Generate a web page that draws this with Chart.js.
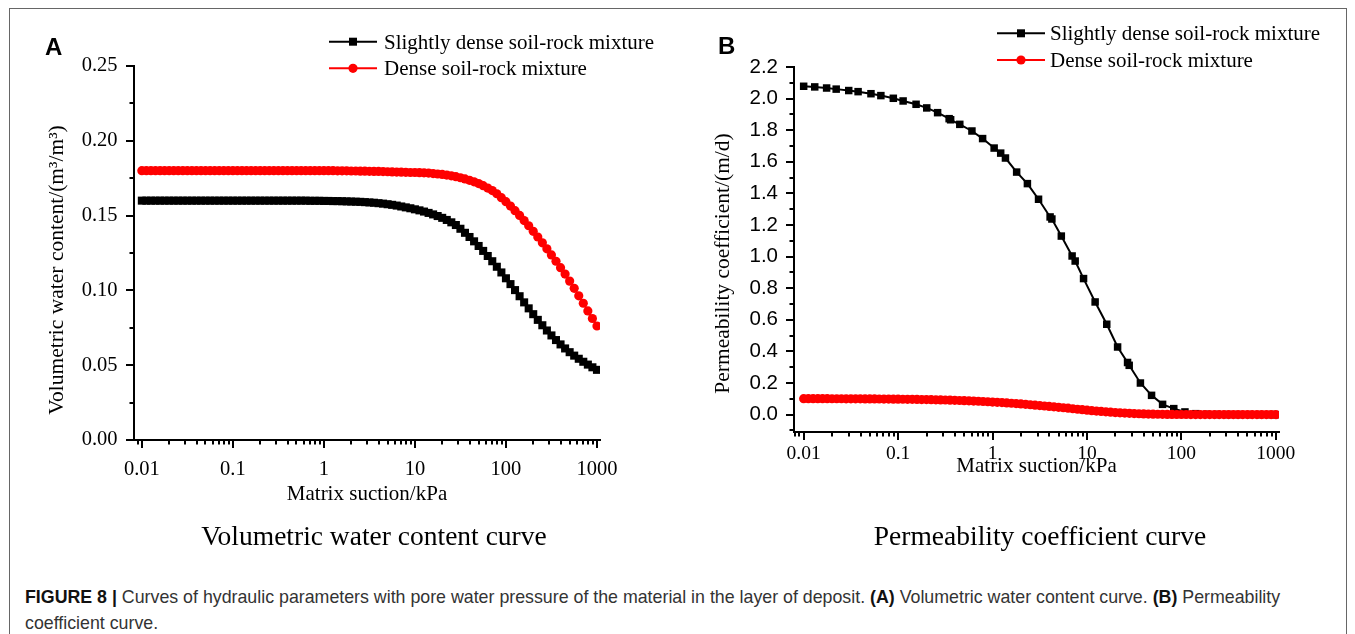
<!DOCTYPE html>
<html>
<head>
<meta charset="utf-8">
<script src="https://cdn.jsdelivr.net/npm/chart.js@4"></script>
<style>
  body { margin: 0; background: #fff; }
  #page { position: relative; width: 1355px; height: 634px; overflow: hidden; background: #fff; }
  #frame { position: absolute; left: 9px; top: 8px; width: 1336px; height: 700px; border: 1px solid #666; }
  canvas { position: absolute; top: 0; }
  #chartA { left: 0; }
  #chartB { left: 680px; }
  #caption {
    position: absolute; left: 25px; top: 584px;
    font: 17.8px "Liberation Sans", Arial, sans-serif; line-height: 26px;
    color: #333; white-space: nowrap;
  }
  #caption b { color: #111; }
</style>
</head>
<body>
<div id="page">
  <div id="frame"></div>
  <canvas id="chartA" width="680" height="560"></canvas>
  <canvas id="chartB" width="675" height="560"></canvas>
  <div id="caption"><b>FIGURE 8 |</b> Curves of hydraulic parameters with pore water pressure of the material in the layer of deposit. <b>(A)</b> Volumetric water content curve. <b>(B)</b> Permeability<br>coefficient curve.</div>
</div>
<script>
// matrix suction (kPa), shared by the dense curves
var suction = [
  0.01, 0.01122, 0.01259, 0.01413, 0.01585, 0.01778, 0.01995, 0.02239, 0.02512, 0.02818,
  0.03162, 0.03548, 0.03981, 0.04467, 0.05012, 0.05623, 0.0631, 0.07079, 0.07943, 0.08913,
  0.1, 0.1122, 0.1259, 0.1413, 0.1585, 0.1778, 0.1995, 0.2239, 0.2512, 0.2818,
  0.3162, 0.3548, 0.3981, 0.4467, 0.5012, 0.5623, 0.631, 0.7079, 0.7943, 0.8913,
  1, 1.122, 1.259, 1.413, 1.585, 1.778, 1.995, 2.239, 2.512, 2.818,
  3.162, 3.548, 3.981, 4.467, 5.012, 5.623, 6.31, 7.079, 7.943, 8.913,
  10, 11.22, 12.59, 14.13, 15.85, 17.78, 19.95, 22.39, 25.12, 28.18,
  31.62, 35.48, 39.81, 44.67, 50.12, 56.23, 63.1, 70.79, 79.43, 89.13,
  100, 112.2, 125.9, 141.3, 158.5, 177.8, 199.5, 223.9, 251.2, 281.8,
  316.2, 354.8, 398.1, 446.7, 501.2, 562.3, 631, 707.9, 794.3, 891.3,
  1000
];

// volumetric water content (m3/m3)
var wcSlightly = [
  0.1600, 0.1600, 0.1600, 0.1600, 0.1600, 0.1600, 0.1600, 0.1600, 0.1600, 0.1600,
  0.1600, 0.1600, 0.1600, 0.1600, 0.1600, 0.1600, 0.1600, 0.1600, 0.1600, 0.1600,
  0.1600, 0.1600, 0.1600, 0.1600, 0.1600, 0.1600, 0.1600, 0.1600, 0.1600, 0.1600,
  0.1600, 0.1600, 0.1600, 0.1600, 0.1600, 0.1600, 0.1600, 0.1599, 0.1599, 0.1599,
  0.1598, 0.1598, 0.1597, 0.1597, 0.1596, 0.1595, 0.1594, 0.1593, 0.1592, 0.1590,
  0.1588, 0.1586, 0.1583, 0.1580, 0.1576, 0.1572, 0.1567, 0.1561, 0.1555, 0.1549,
  0.1542, 0.1535, 0.1527, 0.1518, 0.1508, 0.1497, 0.1485, 0.1471, 0.1455, 0.1437,
  0.1412, 0.1385, 0.1357, 0.1328, 0.1297, 0.1264, 0.1230, 0.1195, 0.1158, 0.1120,
  0.1081, 0.1042, 0.1002, 0.0961, 0.0920, 0.0880, 0.0841, 0.0803, 0.0767, 0.0732,
  0.0699, 0.0668, 0.0639, 0.0612, 0.0587, 0.0564, 0.0543, 0.0523, 0.0504, 0.0486,
  0.0469
];
var wcDense = [
  0.1800, 0.1800, 0.1800, 0.1800, 0.1800, 0.1800, 0.1800, 0.1800, 0.1800, 0.1800,
  0.1800, 0.1800, 0.1800, 0.1800, 0.1800, 0.1800, 0.1800, 0.1800, 0.1800, 0.1800,
  0.1800, 0.1800, 0.1800, 0.1800, 0.1800, 0.1800, 0.1800, 0.1800, 0.1800, 0.1800,
  0.1800, 0.1800, 0.1800, 0.1800, 0.1800, 0.1800, 0.1800, 0.1800, 0.1800, 0.1800,
  0.1800, 0.1800, 0.1800, 0.1799, 0.1799, 0.1799, 0.1798, 0.1798, 0.1797, 0.1797,
  0.1796, 0.1795, 0.1795, 0.1794, 0.1793, 0.1792, 0.1791, 0.1790, 0.1789, 0.1788,
  0.1788, 0.1787, 0.1786, 0.1784, 0.1781, 0.1778, 0.1775, 0.1771, 0.1766, 0.1760,
  0.1753, 0.1745, 0.1736, 0.1726, 0.1714, 0.1700, 0.1684, 0.1667, 0.1646, 0.1620,
  0.1593, 0.1564, 0.1533, 0.1501, 0.1467, 0.1432, 0.1395, 0.1357, 0.1318, 0.1278,
  0.1237, 0.1195, 0.1152, 0.1109, 0.1062, 0.1014, 0.0964, 0.0914, 0.0863, 0.0812,
  0.0762
];

// permeability coefficient (m/d)
var suctionSparse = [
  0.01, 0.0131, 0.0175, 0.0221, 0.030, 0.0377, 0.0516, 0.0657, 0.089, 0.113,
  0.155, 0.201, 0.262, 0.347, 0.36, 0.45, 0.605, 0.785, 1.04, 1.22,
  1.37, 1.80, 2.34, 3.07, 4.07, 4.25, 5.35, 6.96, 7.5, 9.2,
  12.2, 16.2, 21.1, 26.9, 28, 36.8, 48.3, 63.2, 83, 109,
  142, 185, 240, 310, 405, 525, 680, 890, 1000
];
var permSlightly = [
  2.078, 2.074, 2.067, 2.060, 2.051, 2.044, 2.031, 2.019, 2.002, 1.985,
  1.964, 1.941, 1.911, 1.873, 1.866, 1.837, 1.795, 1.747, 1.687, 1.655,
  1.624, 1.535, 1.462, 1.363, 1.251, 1.238, 1.130, 1.004, 0.972, 0.861,
  0.713, 0.572, 0.428, 0.330, 0.312, 0.200, 0.122, 0.065, 0.038, 0.017,
  0.006, 0.002, 0.001, 0.0005, 0.0003, 0.0002, 0.0001, 0.0001, 0
];
var permDense = [
  0.1010, 0.1009, 0.1009, 0.1008, 0.1007, 0.1006, 0.1005, 0.1004, 0.1003, 0.1002,
  0.1000, 0.0999, 0.0997, 0.0995, 0.0993, 0.0991, 0.0989, 0.0986, 0.0983, 0.0980,
  0.0977, 0.0973, 0.0969, 0.0965, 0.0960, 0.0955, 0.0950, 0.0944, 0.0938, 0.0931,
  0.0924, 0.0915, 0.0905, 0.0895, 0.0884, 0.0872, 0.0859, 0.0845, 0.0830, 0.0814,
  0.0797, 0.0779, 0.0760, 0.0740, 0.0719, 0.0697, 0.0674, 0.0650, 0.0625, 0.0599,
  0.0573, 0.0546, 0.0519, 0.0491, 0.0463, 0.0435, 0.0405, 0.0373, 0.0341, 0.0310,
  0.0280, 0.0252, 0.0225, 0.0199, 0.0175, 0.0152, 0.0131, 0.0112, 0.0095, 0.0080,
  0.0067, 0.0055, 0.0045, 0.0037, 0.0030, 0.0024, 0.0019, 0.0015, 0.0012, 0.0009,
  0.0007, 0.0006, 0.0005, 0.0004, 0.0003, 0.0002, 0.0002, 0.0001, 0.0001, 0.0001,
  0.0001, 0.0001, 0.0001, 0, 0, 0, 0, 0, 0, 0,
  0
];

var seriesNames = ['Slightly dense soil-rock mixture', 'Dense soil-rock mixture'];
var xTicks = [0.01, 0.1, 1, 10, 100, 1000];
var xTickLabels = ['0.01', '0.1', '1', '10', '100', '1000'];
var wcTicks = [0, 0.05, 0.10, 0.15, 0.20, 0.25];
var wcTickLabels = ['0.00', '0.05', '0.10', '0.15', '0.20', '0.25'];
var permTicks = [0, 0.2, 0.4, 0.6, 0.8, 1.0, 1.2, 1.4, 1.6, 1.8, 2.0, 2.2];
var permTickLabels = ['0.0', '0.2', '0.4', '0.6', '0.8', '1.0', '1.2', '1.4', '1.6', '1.8', '2.0', '2.2'];

var SERIF = "'Liberation Serif', 'Times New Roman', serif";
var SANS = "'Liberation Sans', Arial, sans-serif";

function points(xs, ys) {
    return xs.map(function (x, i) { return { x: x, y: ys[i] }; });
}

// Origin-style decorations: outward major/minor ticks, panel letter,
// legend (line + marker), axis titles and the caption under each panel
var panelDecor = {
    id: 'panelDecor',
    afterDraw: function (chart, args, o) {
        var ctx = chart.ctx;
        var xs = chart.scales.x, ys = chart.scales.y;
        var area = chart.chartArea;

        ctx.save();
        ctx.strokeStyle = '#000';
        ctx.lineWidth = 2;

        // x ticks: decades long, 2..9 short
        var xMinor = [];
        [xTicks[0] / 10].concat(xTicks).forEach(function (d) {
            for (var k = 2; k <= 9; k++) {
                var v = k * d;
                if (v > xs.min && v < xs.max) xMinor.push(v);
            }
        });
        ctx.beginPath();
        xTicks.forEach(function (v) {
            var px = Math.round(xs.getPixelForValue(v));
            ctx.moveTo(px, area.bottom);
            ctx.lineTo(px, area.bottom + o.majorLen);
        });
        xMinor.forEach(function (v) {
            var px = Math.round(xs.getPixelForValue(v));
            ctx.moveTo(px, area.bottom);
            ctx.lineTo(px, area.bottom + o.minorLen);
        });

        // y ticks: labelled values long, midpoints short
        var yMajor = o.yTicks;
        var step = yMajor[1] - yMajor[0];
        var yMinor = [yMajor[0] - step / 2].concat(yMajor.map(function (v) { return v + step / 2; }))
            .filter(function (v) { return v >= ys.min && v <= ys.max; });
        yMajor.forEach(function (v) {
            var py = Math.round(ys.getPixelForValue(v));
            ctx.moveTo(area.left, py);
            ctx.lineTo(area.left - o.majorLen, py);
        });
        yMinor.forEach(function (v) {
            var py = Math.round(ys.getPixelForValue(v));
            ctx.moveTo(area.left, py);
            ctx.lineTo(area.left - o.minorLen, py);
        });
        ctx.stroke();

        // panel letter
        ctx.fillStyle = '#000';
        ctx.font = 'bold 24px ' + SANS;
        ctx.textAlign = 'left';
        ctx.textBaseline = 'alphabetic';
        ctx.fillText(o.letter, o.letterX, o.letterY);

        // legend
        var lg = o.legend;
        chart.data.datasets.forEach(function (ds, i) {
            var y = lg.rows[i];
            ctx.strokeStyle = ds.borderColor;
            ctx.lineWidth = 2;
            ctx.beginPath();
            ctx.moveTo(lg.x1, y);
            ctx.lineTo(lg.x2, y);
            ctx.stroke();
            var mx = (lg.x1 + lg.x2) / 2;
            ctx.fillStyle = ds.borderColor;
            ctx.beginPath();
            if (ds.pointStyle === 'rect') {
                ctx.rect(mx - 4, y - 4, 8, 8);
            } else {
                ctx.arc(mx, y, 4.6, 0, Math.PI * 2);
            }
            ctx.fill();
            ctx.fillStyle = '#000';
            ctx.font = '21px ' + SERIF;
            ctx.fillText(ds.label, lg.textX, y + 7);
        });

        // axis titles
        ctx.fillStyle = '#000';
        ctx.font = '21px ' + SERIF;
        ctx.textAlign = 'center';
        ctx.fillText(o.xTitle, o.xTitleX, o.xTitleY);

        ctx.save();
        ctx.translate(o.yTitleX, o.yTitleY);
        ctx.rotate(-Math.PI / 2);
        ctx.font = '21.5px ' + SERIF;
        ctx.fillText(o.yTitle, 0, 0);
        ctx.restore();

        // caption under the panel
        ctx.font = '27.5px ' + SERIF;
        ctx.fillText(o.caption, o.captionX, o.captionY);

        ctx.restore();
    }
};

function makeChart(id, cfg) {
    var canvas = document.getElementById(id);
    var W = canvas.width, H = canvas.height;
    return new Chart(canvas, {
        type: 'scatter',
        data: { datasets: cfg.datasets },
        options: {
            responsive: false,
            animation: false,
            devicePixelRatio: 1,
            events: [],
            layout: { padding: { left: 0, top: cfg.area.top, right: W - cfg.area.right, bottom: 0 } },
            plugins: {
                legend: { display: false },
                tooltip: { enabled: false },
                panelDecor: cfg.decor
            },
            scales: {
                x: {
                    type: 'logarithmic',
                    min: cfg.xMin,
                    max: cfg.xMax,
                    afterBuildTicks: function (s) { s.ticks = xTicks.map(function (v) { return { value: v }; }); },
                    afterFit: function (s) { s.height = H - cfg.area.bottom; },
                    grid: { display: false },
                    border: { display: true, color: '#000', width: 2 },
                    ticks: {
                        autoSkip: false, maxRotation: 0, color: '#000',
                        padding: cfg.xTickPad,
                        font: { family: SERIF, size: cfg.xTickSize },
                        callback: function (v, i) { return xTickLabels[i]; }
                    }
                },
                y: {
                    min: cfg.yMin,
                    max: cfg.yMax,
                    afterBuildTicks: function (s) { s.ticks = cfg.yTicks.map(function (v) { return { value: v }; }); },
                    afterFit: function (s) { s.width = cfg.area.left; },
                    grid: { display: false },
                    border: { display: true, color: '#000', width: 2 },
                    ticks: {
                        color: '#000',
                        padding: cfg.yTickPad,
                        font: { family: cfg.yTickFont, size: cfg.yTickSize },
                        callback: function (v, i) { return cfg.yTickLabels[i]; }
                    }
                }
            }
        },
        plugins: [panelDecor]
    });
}

function series(label, xs, ys, color, style, radius, order) {
    return {
        label: label,
        data: points(xs, ys),
        showLine: true,
        tension: 0,
        borderColor: color,
        borderWidth: 2,
        pointStyle: style,
        pointRadius: radius,
        pointBackgroundColor: color,
        pointBorderWidth: 0,
        order: order
    };
}

// (A) volumetric water content
makeChart('chartA', {
    area: { left: 134, top: 66, right: 600, bottom: 440 },
    xMin: 0.0082, xMax: 1080,
    yMin: 0, yMax: 0.25,
    yTicks: wcTicks, yTickLabels: wcTickLabels,
    xTickSize: 20.5, xTickPad: 9,
    yTickFont: SERIF, yTickSize: 20.5, yTickPad: 8.5,
    datasets: [
        series(seriesNames[0], suction, wcSlightly, '#000000', 'rect', 5.7, 2),
        series(seriesNames[1], suction, wcDense, '#ff0000', 'circle', 4.6, 1)
    ],
    decor: {
        yTicks: wcTicks, majorLen: 8, minorLen: 4.5,
        letter: 'A', letterX: 45, letterY: 55,
        legend: { x1: 329, x2: 377, textX: 384, rows: [41.7, 68.3] },
        xTitle: 'Matrix suction/kPa', xTitleX: 367, xTitleY: 499.5,
        yTitle: 'Volumetric water content/(m\u00b3/m\u00b3)', yTitleX: 63, yTitleY: 270,
        caption: 'Volumetric water content curve', captionX: 374, captionY: 545
    }
});

// (B) permeability coefficient
makeChart('chartB', {
    area: { left: 114, top: 67, right: 599, bottom: 432 },
    xMin: 0.0079, xMax: 1080,
    yMin: -0.11, yMax: 2.2,
    yTicks: permTicks, yTickLabels: permTickLabels,
    xTickSize: 19.5, xTickPad: 2,
    yTickFont: SANS, yTickSize: 20.5, yTickPad: 8,
    datasets: [
        series(seriesNames[0], suctionSparse, permSlightly, '#000000', 'rect', 5.3, 2),
        series(seriesNames[1], suction, permDense, '#ff0000', 'circle', 4.6, 1)
    ],
    decor: {
        yTicks: permTicks, majorLen: 8, minorLen: 4.5,
        letter: 'B', letterX: 38, letterY: 53.5,
        legend: { x1: 317, x2: 365, textX: 370, rows: [33.3, 60] },
        xTitle: 'Matrix suction/kPa', xTitleX: 356.5, xTitleY: 472,
        yTitle: 'Permeability coefficient/(m/d)', yTitleX: 48.7, yTitleY: 263.5,
        caption: 'Permeability coefficient curve', captionX: 360, captionY: 545
    }
});
</script>
</body>
</html>
